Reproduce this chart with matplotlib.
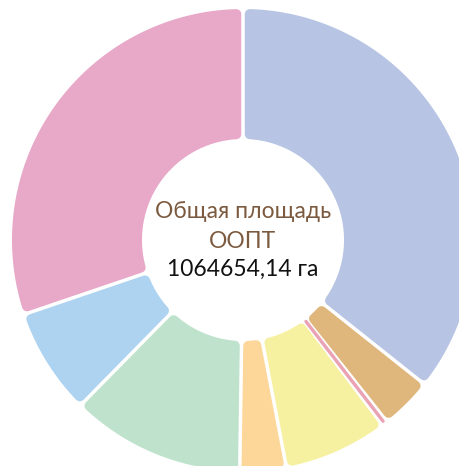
import numpy as np
import matplotlib
matplotlib.use("Agg")
import matplotlib.pyplot as plt
from matplotlib.patches import Polygon

# ---- data (ha), clockwise from 12 o'clock ----
categories = ["cat1", "cat2", "cat3", "cat4", "cat5", "cat6", "cat7", "cat8"]
values = [380000, 38750, 4150, 77500, 34300, 129250, 79000, 321700]
colors = ["#b7c4e3", "#dfb67c", "#eaa3b5", "#f6f1a0", "#fdd699", "#bfe2cc", "#aed3f1", "#e8a9c9"]
title_lines = ["Общая площадь", "ООПТ"]
total_label = "1064654,14 га"

W, H, DPI = 460, 466, 100
fig = plt.figure(figsize=(W / DPI, H / DPI), dpi=DPI)
ax = fig.add_axes([0, 0, 1, 1])
ax.set_xlim(0, W)
ax.set_ylim(H, 0)
ax.axis("off")

cx, cy = 243, 240
R, r = 231, 101
gap = 3.5
rc = 5.0
px2pt = 72.0 / DPI

vals = np.array(values, dtype=float)
bounds = np.concatenate([[0], np.cumsum(vals) / vals.sum() * 2 * np.pi])


def pt(theta, rho):
    return cx + rho * np.sin(theta), cy - rho * np.cos(theta)


for i, c in enumerate(colors):
    t1, t2 = bounds[i], bounds[i + 1]
    ro, ri = R - rc, r + rc
    d = gap / 2 + rc
    a_o1 = t1 + np.arcsin(d / ro)
    a_o2 = t2 - np.arcsin(d / ro)
    a_i1 = t1 + np.arcsin(d / ri)
    a_i2 = t2 - np.arcsin(d / ri)
    if a_i2 <= a_i1 or a_o2 <= a_o1:
        tm = (t1 + t2) / 2
        x0, y0 = pt(tm, r + 2)
        x1, y1 = pt(tm, R - 2)
        ax.plot([x0, x1], [y0, y1], color=c, lw=3.4 * px2pt, solid_capstyle="round")
        continue
    th_o = np.linspace(a_o1, a_o2, 120)
    th_i = np.linspace(a_i2, a_i1, 120)
    xo, yo = pt(th_o, ro)
    xi, yi = pt(th_i, ri)
    xs = np.concatenate([xo, xi])
    ys = np.concatenate([yo, yi])
    poly = Polygon(np.column_stack([xs, ys]), closed=True, facecolor=c,
                   edgecolor=c, lw=2 * rc * px2pt, joinstyle="round")
    ax.add_patch(poly)

font = ["Lato", "DejaVu Sans"]
ax.text(cx, 212, title_lines[0], ha="center", va="center", fontsize=16.5,
        color="#7b5a3f", family=font)
ax.text(cx, 241, title_lines[1], ha="center", va="center", fontsize=16.5,
        color="#7b5a3f", family=font)
ax.text(cx, 269, total_label, ha="center", va="center", fontsize=16.5,
        color="#111111", family=font)

fig.savefig("out.png", dpi=DPI, facecolor="white")
